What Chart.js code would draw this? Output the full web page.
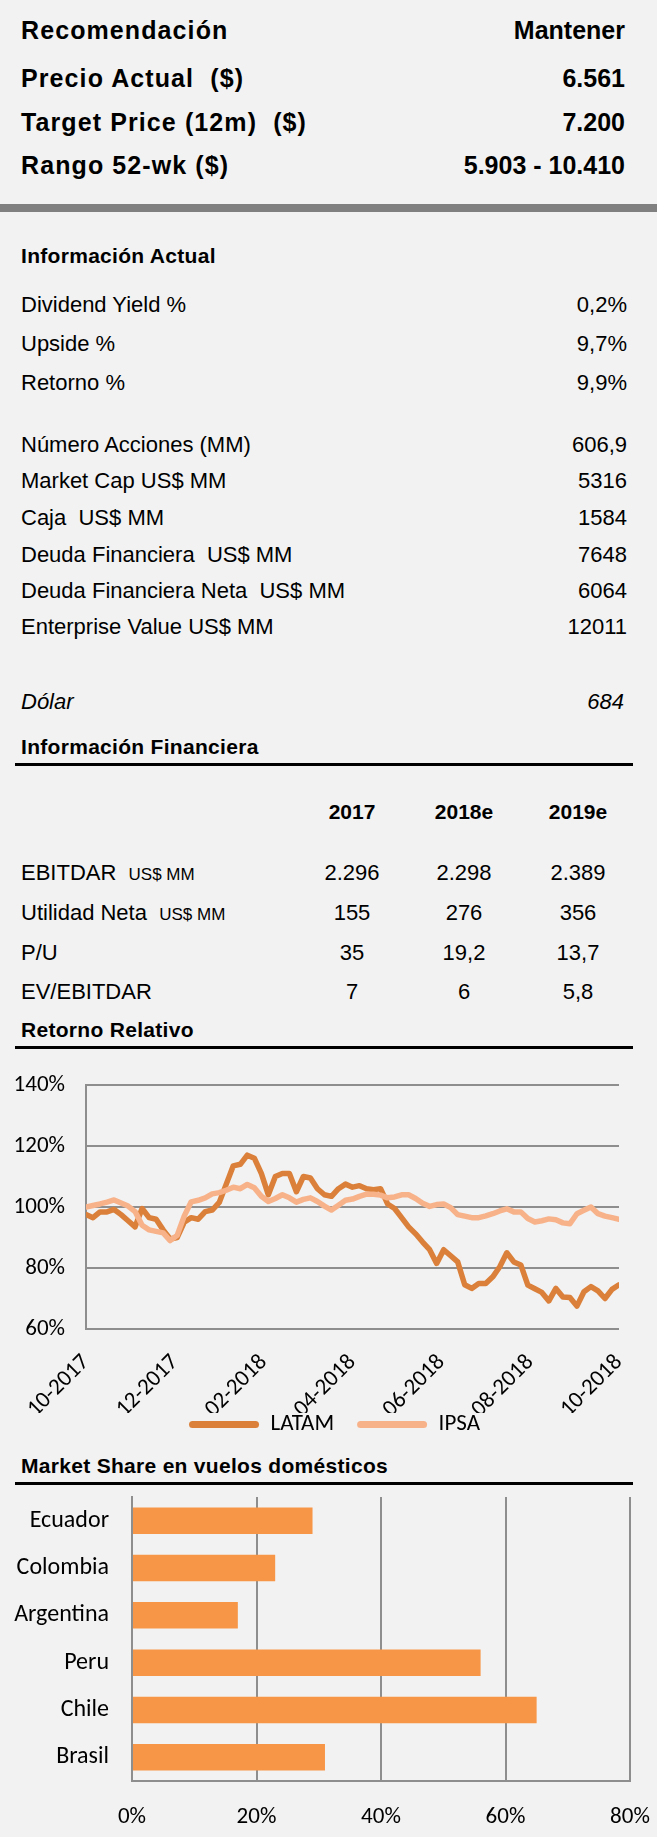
<!DOCTYPE html>
<html lang="es">
<head>
<meta charset="utf-8">
<title>LATAM - Ficha</title>
<script src="https://cdn.jsdelivr.net/npm/chart.js@4.4.1/dist/chart.umd.min.js"></script>
<style>
  html, body { margin: 0; padding: 0; }
  body { width: 657px; height: 1837px; background: #f2f2f2; position: relative; overflow: hidden;
         font-family: "Liberation Sans", Arial, sans-serif; color: #000; }
  .t { position: absolute; white-space: pre; line-height: 30px; height: 30px; }
  .l { left: 21px; }
  .r { right: 30px; text-align: right; }
  .c { width: 100px; text-align: center; }
  .head { font-weight: bold; font-size: 25px; letter-spacing: 1.1px; }
  .head.r { right: 32px; letter-spacing: 0; }
  .sec { font-weight: bold; font-size: 21px; letter-spacing: 0.3px; }
  .row { font-size: 22px; }
  .yr { font-weight: bold; font-size: 21px; }
  .small { font-size: 17px; }
  .rule { position: absolute; left: 15px; width: 618px; height: 3px; background: #000; }
  .bar { position: absolute; left: 0; top: 204px; width: 657px; height: 8px; background: #808080; }
  canvas { position: absolute; left: 0; }
</style>
</head>
<body>

<div class="t l head" style="top:15px">Recomendación</div>
<div class="t r head" style="top:15px">Mantener</div>
<div class="t l head" style="top:63px">Precio Actual  ($)</div>
<div class="t r head" style="top:63px">6.561</div>
<div class="t l head" style="top:107px">Target Price (12m)  ($)</div>
<div class="t r head" style="top:107px">7.200</div>
<div class="t l head" style="top:150px">Rango 52-wk ($)</div>
<div class="t r head" style="top:150px">5.903 - 10.410</div>
<div class="bar"></div>

<div class="t l sec" style="top:241px">Información Actual</div>
<div class="t l row" style="top:290px">Dividend Yield %</div><div class="t r row" style="top:290px">0,2%</div>
<div class="t l row" style="top:329px">Upside %</div><div class="t r row" style="top:329px">9,7%</div>
<div class="t l row" style="top:368px">Retorno %</div><div class="t r row" style="top:368px">9,9%</div>
<div class="t l row" style="top:430px">Número Acciones (MM)</div><div class="t r row" style="top:430px">606,9</div>
<div class="t l row" style="top:466px">Market Cap US$ MM</div><div class="t r row" style="top:466px">5316</div>
<div class="t l row" style="top:503px">Caja  US$ MM</div><div class="t r row" style="top:503px">1584</div>
<div class="t l row" style="top:540px">Deuda Financiera  US$ MM</div><div class="t r row" style="top:540px">7648</div>
<div class="t l row" style="top:576px">Deuda Financiera Neta  US$ MM</div><div class="t r row" style="top:576px">6064</div>
<div class="t l row" style="top:612px">Enterprise Value US$ MM</div><div class="t r row" style="top:612px">12011</div>
<div class="t l row" style="top:687px"><i>Dólar</i></div><div class="t r row" style="top:687px;right:33px"><i>684</i></div>

<div class="t l sec" style="top:732px">Información Financiera</div>
<div class="rule" style="top:763px"></div>
<div class="t c yr" style="top:797px;left:302px">2017</div>
<div class="t c yr" style="top:797px;left:414px">2018e</div>
<div class="t c yr" style="top:797px;left:528px">2019e</div>

<div class="t l row" style="top:858px">EBITDAR  <span class="small">US$ MM</span></div>
<div class="t c row" style="top:858px;left:302px">2.296</div>
<div class="t c row" style="top:858px;left:414px">2.298</div>
<div class="t c row" style="top:858px;left:528px">2.389</div>
<div class="t l row" style="top:898px">Utilidad Neta  <span class="small">US$ MM</span></div>
<div class="t c row" style="top:898px;left:302px">155</div>
<div class="t c row" style="top:898px;left:414px">276</div>
<div class="t c row" style="top:898px;left:528px">356</div>
<div class="t l row" style="top:938px">P/U</div>
<div class="t c row" style="top:938px;left:302px">35</div>
<div class="t c row" style="top:938px;left:414px">19,2</div>
<div class="t c row" style="top:938px;left:528px">13,7</div>
<div class="t l row" style="top:977px">EV/EBITDAR</div>
<div class="t c row" style="top:977px;left:302px">7</div>
<div class="t c row" style="top:977px;left:414px">6</div>
<div class="t c row" style="top:977px;left:528px">5,8</div>

<div class="t l sec" style="top:1015px">Retorno Relativo</div>
<div class="rule" style="top:1046px"></div>
<canvas id="retorno" width="657" height="396" style="top:1050px"></canvas>

<div class="t l sec" style="top:1451px">Market Share en vuelos domésticos</div>
<div class="rule" style="top:1482px"></div>
<canvas id="share" width="657" height="351" style="top:1486px"></canvas>

<script>
// Retorno relativo (base 100), oct-2017 a oct-2018
const tickLabels = ['10-2017', '12-2017', '02-2018', '04-2018', '06-2018', '08-2018', '10-2018'];

const latam = [
  97.5, 96.5, 98.4, 98.4, 99.2, 97.5, 95.5, 93.5, 99.5, 96.5,
  96, 92.5, 89.5, 90, 95, 96.5, 96, 98.5, 99, 101.5,
  107.5, 113.5, 114, 117, 116, 111, 104, 110, 111, 111,
  105, 110, 109.5, 106, 104, 103.5, 106, 107.5, 106.5, 107,
  106, 105.7, 106, 101, 99.5, 96.5, 93.5, 91.2, 88.5, 86,
  81.5, 86, 84, 82, 74.5, 73.3, 74.9, 74.9, 77.1, 80.4,
  85, 82, 81, 74.4, 73.2, 72, 69.2, 73.3, 70.5, 70.3,
  67.5, 72.2, 73.9, 72.5, 70, 73, 74.5
];

const ipsa = [
  100, 100.5, 101, 101.6, 102.3, 101.3, 100.3, 98.5, 94, 92.5,
  92, 91.5, 89, 90.7, 97, 101.7, 102.2, 103, 104.3, 104.7,
  105.5, 106.5, 106, 107.4, 106.3, 103.5, 101.8, 102.8, 104, 103,
  101.6, 102.5, 103, 101.8, 100.3, 99, 100.6, 102.2, 102.6, 103.5,
  104.2, 104.2, 103.9, 103, 103.3, 104, 104, 102.8, 101.2, 100.2,
  100.8, 101, 99.8, 97.5, 97, 96.5, 96.5, 97.1, 97.8, 98.7,
  99.4, 98.4, 98.4, 96.2, 95.1, 95.5, 96.1, 95.8, 94.8, 94.5,
  97.8, 98.9, 100, 97.8, 97, 96.5, 96
];

// Market share vuelos domesticos (%)
const countries = ['Ecuador', 'Colombia', 'Argentina', 'Peru', 'Chile', 'Brasil'];
const share = [29, 23, 17, 56, 65, 31];

const gridGray = '#8e8e8e';
const chartFont = { family: 'Carlito, Lato, sans-serif', size: 23 };

const legendDefaults = Chart.defaults.plugins.legend.labels.generateLabels;

new Chart(document.getElementById('retorno'), {
  type: 'line',
  data: {
    datasets: [{
      label: 'LATAM',
      data: latam.map((v, i) => ({ x: i, y: v })),
      borderColor: '#da803a',
      backgroundColor: '#da803a',
      borderWidth: 5.5,
      pointRadius: 0,
      borderJoinStyle: 'round',
      borderCapStyle: 'round',
      order: 1
    }, {
      label: 'IPSA',
      data: ipsa.map((v, i) => ({ x: i, y: v })),
      borderColor: '#f8b28a',
      backgroundColor: '#f8b28a',
      borderWidth: 5.5,
      pointRadius: 0,
      borderJoinStyle: 'round',
      borderCapStyle: 'round',
      order: 0
    }]
  },
  options: {
    responsive: false,
    animation: false,
    // left padding only moves the legend to the right; y axis is narrowed to match
    layout: { padding: { top: 35, right: 0, bottom: 0, left: 12 } },
    plugins: {
      tooltip: { enabled: false },
      legend: {
        position: 'bottom',
        labels: {
          boxWidth: 70,
          boxHeight: 7,
          useBorderRadius: true,
          borderRadius: 3.5,
          padding: 0,
          color: '#000',
          font: chartFont,
          sort: (a, b) => a.datasetIndex - b.datasetIndex,
          // a wide gap between the two entries, as in the original
          generateLabels: chart => legendDefaults(chart).map(l => ({
            ...l,
            lineWidth: 0,
            text: l.datasetIndex === 0 ? l.text + '\u2003' : l.text
          }))
        }
      }
    },
    scales: {
      x: {
        type: 'linear',
        min: 0,
        max: latam.length - 1,
        afterBuildTicks: s => {
          s.ticks = tickLabels.map((_, i) => ({ value: i * (latam.length - 1) / (tickLabels.length - 1) }));
        },
        afterFit: s => { s.height = 84; s.paddingRight = 38; s.paddingLeft = 0; },
        ticks: {
          autoSkip: false,
          minRotation: 45,
          maxRotation: 45,
          padding: 12,
          color: '#000',
          font: chartFont,
          callback: (v, i) => tickLabels[i]
        },
        grid: { display: false },
        border: { display: false }
      },
      y: {
        min: 60,
        max: 140,
        afterFit: s => { s.width = 74; s.paddingTop = 0; s.paddingBottom = 0; },
        ticks: { stepSize: 20, padding: 21, color: '#000', font: chartFont, callback: v => v + '%' },
        grid: { color: gridGray, lineWidth: 2, drawTicks: false },
        border: { display: true, color: gridGray, width: 2 }
      }
    }
  }
});

new Chart(document.getElementById('share'), {
  type: 'bar',
  data: {
    labels: countries,
    datasets: [{
      data: share,
      backgroundColor: '#f79646',
      barPercentage: 0.56,
      categoryPercentage: 1
    }]
  },
  options: {
    indexAxis: 'y',
    responsive: false,
    animation: false,
    layout: { padding: { top: 11, right: 27, bottom: 0, left: 0 } },
    plugins: { legend: { display: false }, tooltip: { enabled: false } },
    scales: {
      x: {
        min: 0,
        max: 80,
        afterFit: s => { s.height = 56; s.paddingLeft = 0; s.paddingRight = 0; },
        ticks: { stepSize: 20, padding: 22, color: '#000', font: chartFont, callback: v => v + '%' },
        grid: { color: gridGray, lineWidth: 2, drawTicks: false },
        border: { display: true, color: gridGray, width: 2 }
      },
      y: {
        afterFit: s => { s.width = 132; s.paddingTop = 0; s.paddingBottom = 0; },
        ticks: { padding: 23, color: '#000', font: { ...chartFont, size: 24 } },
        grid: { display: false, drawTicks: false },
        border: { display: true, color: gridGray, width: 2 }
      }
    }
  }
});
</script>
</body>
</html>
